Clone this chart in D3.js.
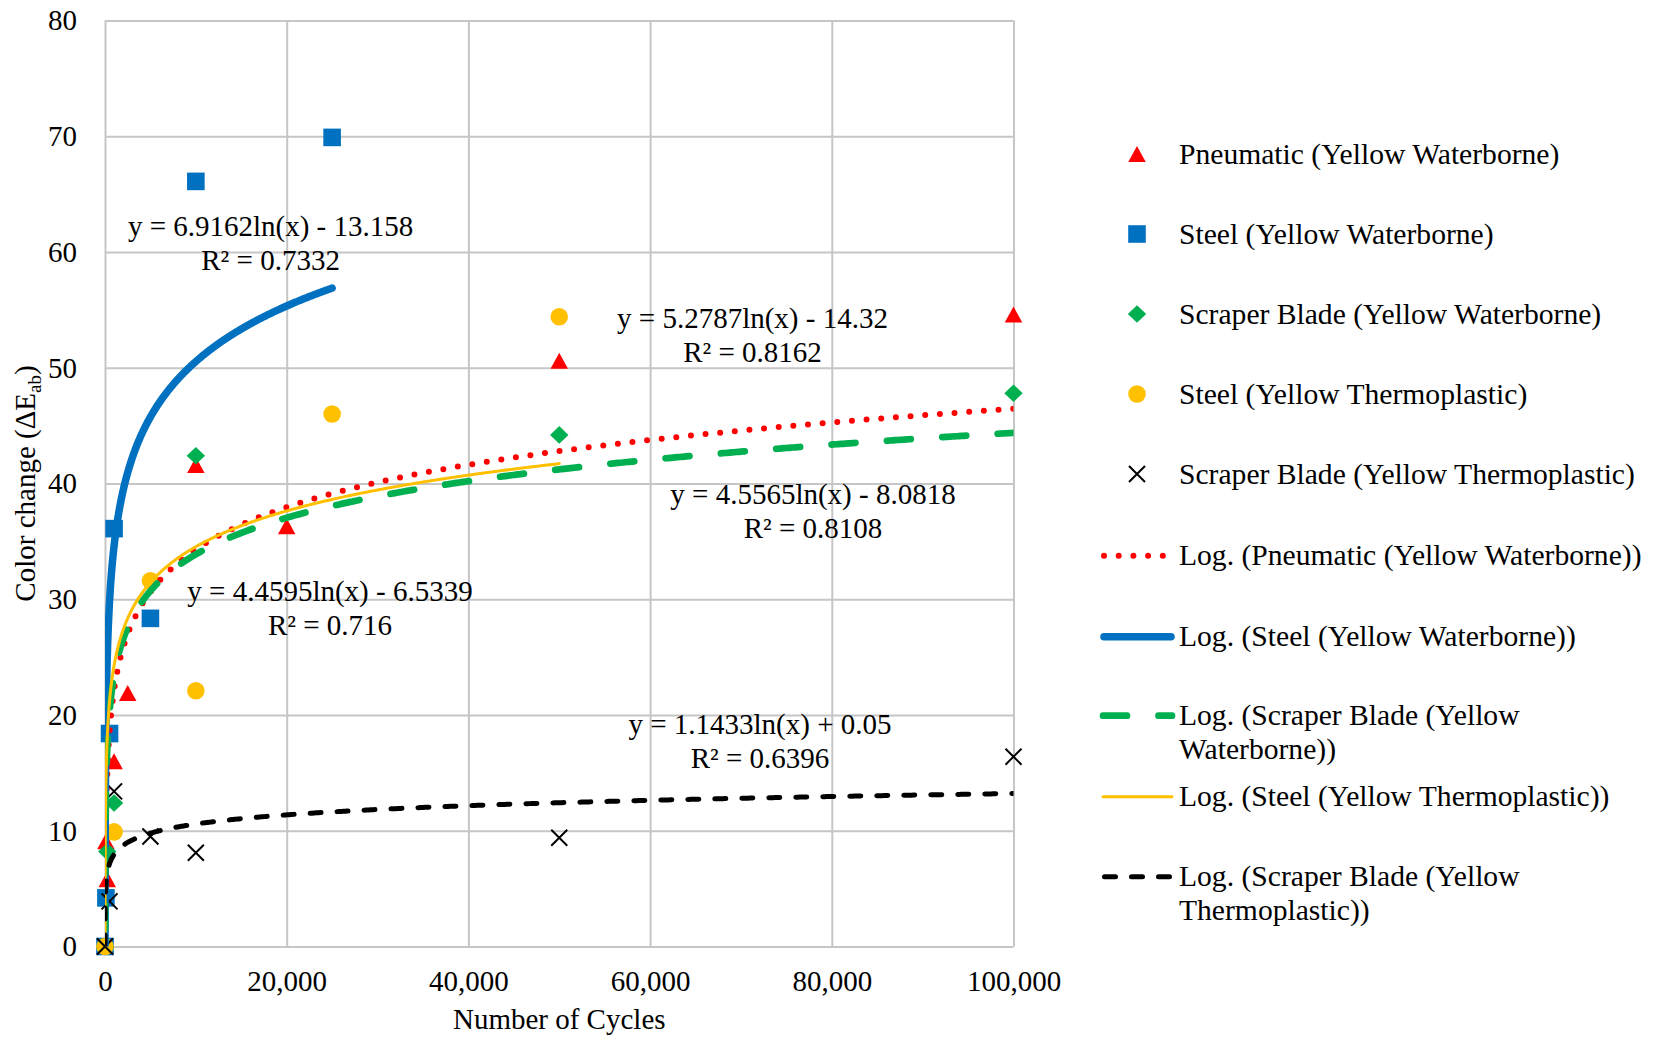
<!DOCTYPE html>
<html><head><meta charset="utf-8">
<script src="https://cdn.jsdelivr.net/npm/d3@7/dist/d3.min.js"></script>
<style>
body{margin:0;background:#fff;}
svg text{font-family:"Liberation Serif","Times New Roman",serif;fill:#000;}
</style></head>
<body>
<svg id="chart" width="1656" height="1041"></svg>
<script>
// ---------------- data ----------------
const seriesNames = [
  "Pneumatic (Yellow Waterborne)",
  "Steel (Yellow Waterborne)",
  "Scraper Blade (Yellow Waterborne)",
  "Steel (Yellow Thermoplastic)",
  "Scraper Blade (Yellow Thermoplastic)"
];
const pneumaticX = [1, 100, 250, 1000, 2500, 10000, 20000, 50000, 100000];
const pneumaticY = [0, 9.1, 5.8, 16.0, 21.9, 41.6, 36.3, 50.6, 54.6];
const steelWbX = [1, 100, 500, 1000, 5000, 10000, 25000];
const steelWbY = [0, 4.2, 18.4, 36.1, 28.35, 66.1, 69.9];
const scraperWbX = [1, 250, 1000, 10000, 50000, 100000];
const scraperWbY = [0, 8.2, 12.4, 42.4, 44.2, 47.8];
const steelTpX = [1, 1000, 5000, 10000, 25000, 50000];
const steelTpY = [0, 9.9, 31.6, 22.1, 46.0, 54.4];
const scraperTpX = [1, 500, 1000, 5000, 10000, 50000, 100000];
const scraperTpY = [0, 3.9, 13.4, 9.5, 8.1, 9.4, 16.4];

// logarithmic trendlines y = a ln(x) + b
const trendA = [5.2787, 6.9162, 4.5565, 4.4595, 1.1433];
const trendB = [-14.32, -13.158, -8.0818, -6.5339, 0.05];
const trendR2 = ["0.8162", "0.7332", "0.8108", "0.716", "0.6396"];
const trendEq = [
  "y = 5.2787ln(x) - 14.32",
  "y = 6.9162ln(x) - 13.158",
  "y = 4.5565ln(x) - 8.0818",
  "y = 4.4595ln(x) - 6.5339",
  "y = 1.1433ln(x) + 0.05"
];
const trendLegend = [
  ["Log. (Pneumatic (Yellow Waterborne))"],
  ["Log. (Steel (Yellow Waterborne))"],
  ["Log. (Scraper Blade (Yellow", "Waterborne))"],
  ["Log. (Steel (Yellow Thermoplastic))"],
  ["Log. (Scraper Blade (Yellow", "Thermoplastic))"]
];
const xTicks = [0, 20000, 40000, 60000, 80000, 100000];
const yTicks = [0, 10, 20, 30, 40, 50, 60, 70, 80];
const xTitle = "Number of Cycles";

// ---------------- layout / style ----------------
const FONT = 29;
const LEG_FONT = 29.6;
const plot = {left: 105, right: 1013.5, top: 20.5, bottom: 946.5};
const colors = ["#FF0000", "#0070C0", "#00B050", "#FFC000", "#000000"];
const lineStyles = [
  {w: 6, dash: "0 14.7", cap: "round"},
  {w: 7.5, dash: null, cap: "round"},
  {w: 6.7, dash: "24 31.5", cap: "round"},
  {w: 3, dash: null, cap: "round"},
  {w: 5, dash: "11 16", cap: "round"}
];
// equation label anchors (centre x, baseline of first line)
const eqPos = [[752.5, 328], [270.6, 236], [813, 504], [330, 601], [760, 734]];
const eqLineGap = 34;

const series = [
  {x: pneumaticX, y: pneumaticY},
  {x: steelWbX, y: steelWbY},
  {x: scraperWbX, y: scraperWbY},
  {x: steelTpX, y: steelTpY},
  {x: scraperTpX, y: scraperTpY}
];

const svg = d3.select("#chart");
const x = d3.scaleLinear().domain([0, 100000]).range([plot.left, plot.right]);
const y = d3.scaleLinear().domain([0, 80]).range([plot.bottom, plot.top]);

svg.append("defs").append("clipPath").attr("id", "clip")
  .append("rect").attr("x", plot.left).attr("y", plot.top)
  .attr("width", plot.right - plot.left).attr("height", plot.bottom - plot.top);

// grid + axes
const gridColor = "#c6c6c6";
const gx = svg.append("g").attr("transform", `translate(0,${plot.bottom})`)
  .call(d3.axisBottom(x).tickValues(xTicks).tickFormat(d3.format(","))
    .tickSize(-(plot.bottom - plot.top)).tickPadding(23.6));
const gy = svg.append("g").attr("transform", `translate(${plot.left},0)`)
  .call(d3.axisLeft(y).tickValues(yTicks).tickFormat(d3.format("d"))
    .tickSize(-(plot.right - plot.left)).tickPadding(28));
[gx, gy].forEach(g => {
  g.attr("font-family", null).attr("font-size", null);
  g.select(".domain").remove();
  g.selectAll(".tick line").attr("stroke", gridColor).attr("stroke-width", 2);
  g.selectAll(".tick text").attr("font-size", FONT).attr("fill", "#000");
});

// axis titles
svg.append("text").attr("x", (plot.left + plot.right) / 2).attr("y", 1029)
  .attr("text-anchor", "middle").attr("font-size", FONT).text(xTitle);
const yt = svg.append("text").attr("transform", `translate(35,${(plot.top + plot.bottom) / 2}) rotate(-90)`)
  .attr("text-anchor", "middle").attr("font-size", FONT);
yt.append("tspan").text("Color change (ΔE");
yt.append("tspan").attr("font-size", 19).attr("dy", 6).text("ab");
yt.append("tspan").attr("dy", -6).text(")");

// marker symbols
const symTri = {draw(c) { const w = 17.5, h = 16; c.moveTo(0, -h / 2); c.lineTo(w / 2, h / 2); c.lineTo(-w / 2, h / 2); c.closePath(); }};
const symSq = {draw(c) { const s = 8.8; c.moveTo(-s, -s); c.lineTo(s, -s); c.lineTo(s, s); c.lineTo(-s, s); c.closePath(); }};
const symDia = {draw(c) { const w = 9.2, h = 8.8; c.moveTo(0, -h); c.lineTo(w, 0); c.lineTo(0, h); c.lineTo(-w, 0); c.closePath(); }};
const symCirc = {draw(c) { c.moveTo(8.8, 0); c.arc(0, 0, 8.8, 0, 2 * Math.PI); }};
const symX = {draw(c) { const s = 8; c.moveTo(-s, -s); c.lineTo(s, s); c.moveTo(s, -s); c.lineTo(-s, s); }};
const symbols = [symTri, symSq, symDia, symCirc, symX];

function drawMarker(g, i) {
  const p = g.append("path").attr("d", d3.symbol().type(symbols[i])());
  if (i === 4) p.attr("fill", "none").attr("stroke", colors[i]).attr("stroke-width", 2);
  else p.attr("fill", colors[i]).attr("stroke", "none");
  return p;
}

// markers
const mk = svg.append("g");
series.forEach((s, i) => {
  s.x.forEach((xv, j) => {
    const g = mk.append("g").attr("transform", `translate(${x(xv)},${y(s.y[j])})`);
    drawMarker(g, i);
  });
});

// trendlines
const tl = svg.append("g").attr("clip-path", "url(#clip)");
const line = d3.line().x(d => x(d[0])).y(d => y(d[1]));
series.forEach((s, i) => {
  const xmin = d3.min(s.x), xmax = d3.max(s.x);
  const N = 400;
  const xs = d3.range(N + 1).map(k => Math.exp(Math.log(xmin) + k / N * (Math.log(xmax) - Math.log(xmin))))
    .concat(d3.range(N + 1).map(k => xmin + k / N * (xmax - xmin)));
  xs.sort((a, b) => a - b);
  const pts = xs.map(v => [v, trendA[i] * Math.log(v) + trendB[i]]);
  const st = lineStyles[i];
  tl.append("path").attr("d", line(pts)).attr("fill", "none")
    .attr("stroke", colors[i]).attr("stroke-width", st.w)
    .attr("stroke-linecap", st.cap).attr("stroke-linejoin", "round")
    .attr("stroke-dasharray", st.dash);
});

// equation labels
trendEq.forEach((eq, i) => {
  const [cx, by] = eqPos[i];
  svg.append("text").attr("x", cx).attr("y", by).attr("text-anchor", "middle")
    .attr("font-size", FONT).text(eq);
  svg.append("text").attr("x", cx).attr("y", by + eqLineGap).attr("text-anchor", "middle")
    .attr("font-size", FONT).text("R² = " + trendR2[i]);
});

// legend
const legMarkerX = 1137, legTextX = 1179;
const legRowBase = [163.5, 243.5, 323.5, 403.5, 483.5];
seriesNames.forEach((n, i) => {
  const g = svg.append("g").attr("transform", `translate(${legMarkerX},${legRowBase[i] - 9.5})`);
  drawMarker(g, i);
  svg.append("text").attr("x", legTextX).attr("y", legRowBase[i]).attr("font-size", LEG_FONT).text(n);
});
const legLineBase = [565, 646, 725, 806, 886];
const legLineSeg = [[1104, 1166], [1104, 1171], [1103, 1172], [1103, 1172], [1104.5, 1172]];
trendLegend.forEach((lines, i) => {
  const st = lineStyles[i];
  const ly = legLineBase[i] - 9.3;
  svg.append("line").attr("x1", legLineSeg[i][0]).attr("x2", legLineSeg[i][1])
    .attr("y1", ly).attr("y2", ly).attr("stroke", colors[i]).attr("stroke-width", st.w)
    .attr("stroke-linecap", st.cap).attr("stroke-dasharray", st.dash);
  lines.forEach((t, k) => {
    svg.append("text").attr("x", legTextX).attr("y", legLineBase[i] + k * 33.5)
      .attr("font-size", LEG_FONT).text(t);
  });
});
</script>
</body></html>
